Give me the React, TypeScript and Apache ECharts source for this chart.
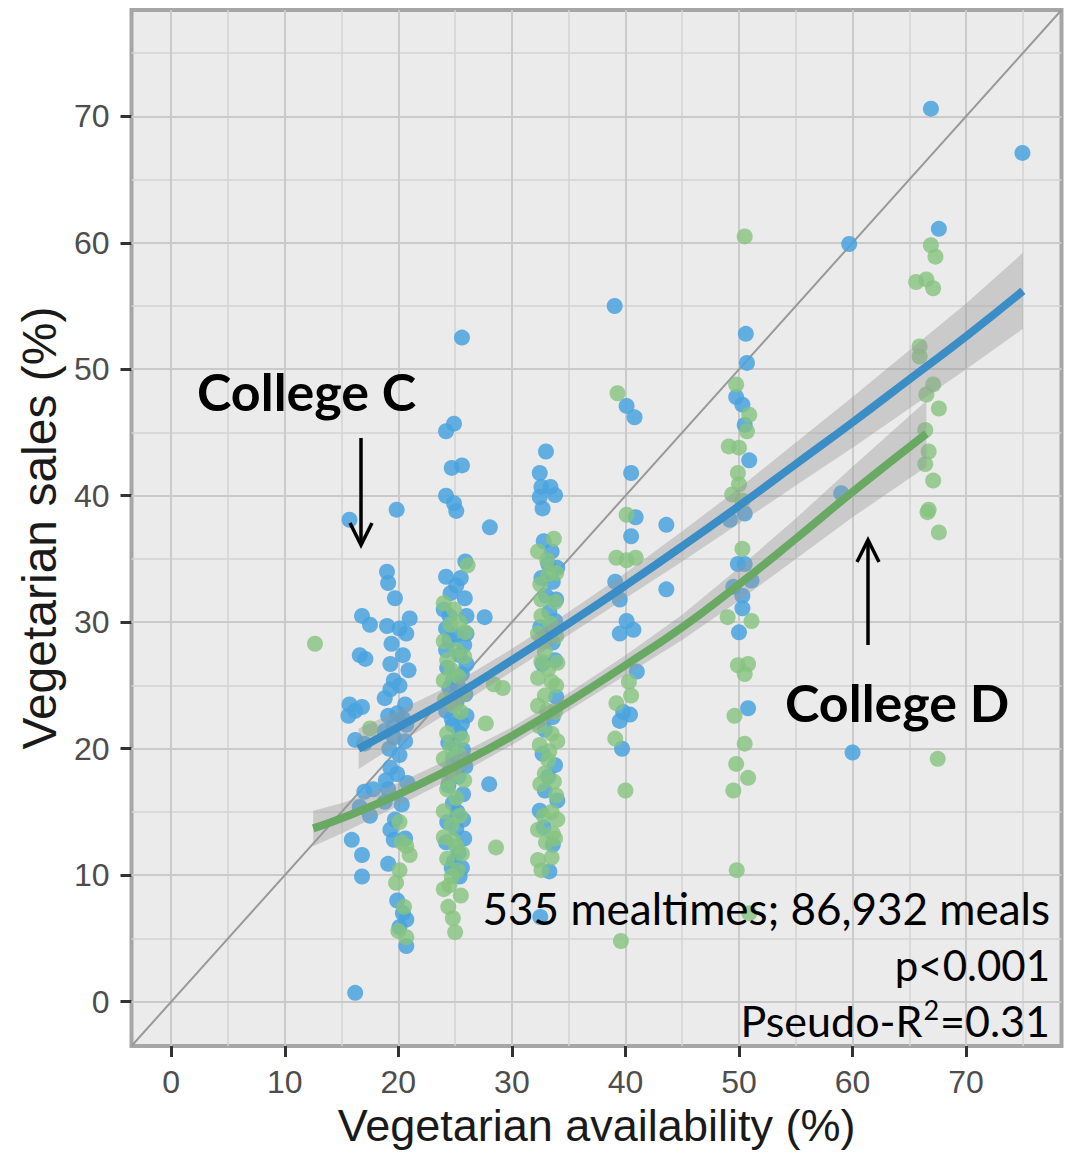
import React, { useEffect, useRef } from "react";
import * as echarts from "echarts";

// Axis range shared by both axes (the identity line runs corner to corner)
const axisMin = -3.5;
const axisMax = 78.4;
const tickValues = [0, 10, 20, 30, 40, 50, 60, 70];
const majorGrid = [0, 10, 20, 30, 40, 50, 60, 70];
const minorGrid = [5, 15, 25, 35, 45, 55, 65, 75];

// College C mealtimes: [vegetarian availability %, vegetarian sales %]
const collegeC: number[][] = [
  [25.6, 52.5], [24.2, 45.1], [24.9, 45.7], [24.7, 42.2], [25.6, 42.4], [24.2, 40.0], [24.9, 39.4], [25.1, 38.8],
  [15.7, 38.1], [19.85, 38.9], [19.0, 34.0], [19.1, 33.1], [19.7, 31.9], [16.8, 30.5], [17.5, 29.8], [21.0, 30.3],
  [20.1, 29.5], [20.7, 29.1], [19.4, 28.3], [16.6, 27.4], [17.1, 27.1], [19.3, 26.7], [19.6, 25.4], [20.1, 25.0],
  [19.3, 24.7], [15.7, 23.5], [16.2, 23.0], [16.8, 23.3], [15.6, 22.6], [19.1, 22.6], [19.9, 22.8], [20.4, 22.4],
  [20.7, 21.9], [19.6, 21.8], [18.8, 21.4], [16.2, 20.7], [17.0, 20.4], [19.6, 20.9], [20.1, 19.5], [19.3, 18.5],
  [19.9, 18.0], [17.0, 16.6], [17.8, 16.8], [19.1, 16.8], [16.6, 15.4], [17.5, 14.7], [19.7, 14.4], [15.9, 12.8],
  [16.8, 11.6], [19.6, 12.8], [16.8, 9.9], [19.9, 8.0], [20.4, 7.0], [20.1, 5.9], [20.7, 4.4], [16.2, 0.7], [20.7, 6.5],
  [20.4, 27.4], [19.0, 29.7], [20.9, 26.2], [18.8, 24.0], [20.6, 23.5], [19.2, 20.0], [20.6, 20.6], [18.9, 17.5],
  [20.8, 17.3], [18.8, 15.8], [20.3, 15.6], [19.3, 13.6], [20.6, 12.9], [19.1, 10.9],
  [25.9, 34.8], [24.2, 33.6], [25.1, 32.9], [25.85, 31.9], [24.0, 31.0], [24.5, 30.5], [26.0, 30.5], [24.2, 29.5],
  [25.1, 29.0], [26.0, 29.1], [24.2, 27.8], [25.4, 27.4], [26.0, 26.7], [24.3, 26.4], [24.8, 25.4], [25.9, 24.3],
  [25.1, 23.6], [24.2, 23.0], [26.0, 22.6], [24.8, 21.9], [25.4, 21.2], [24.4, 20.5], [25.7, 19.9], [24.8, 19.2],
  [25.3, 17.8], [24.4, 17.1], [25.7, 16.4], [24.8, 15.7], [25.7, 14.4], [25.1, 13.7], [24.2, 12.6], [25.3, 11.8],
  [24.7, 10.6], [25.4, 9.9],
  [25.5, 33.5], [24.6, 32.3], [25.8, 28.2], [24.5, 28.6], [25.6, 25.9], [24.5, 24.8], [25.3, 24.9], [24.7, 22.4],
  [25.6, 22.0], [24.9, 20.3], [25.9, 18.6], [24.5, 18.2], [25.2, 15.0], [24.3, 14.2], [25.8, 12.9], [24.9, 11.1],
  [25.6, 10.6],
  [28.06, 37.5], [27.6, 30.4], [28.0, 17.2],
  [33.0, 43.5], [32.45, 41.8], [32.6, 40.7], [33.4, 40.7], [33.8, 40.05], [32.45, 39.9], [32.7, 39.0], [33.5, 35.6],
  [33.2, 34.6], [33.6, 33.2], [33.0, 32.1], [33.3, 30.8], [33.8, 30.1], [33.6, 28.4], [33.8, 27.0], [32.9, 21.5],
  [33.8, 18.7], [32.9, 16.7], [32.45, 15.1], [33.3, 10.3], [32.5, 6.7], [33.6, 12.4], [32.8, 13.8],
  [32.8, 36.4], [34.0, 34.3], [32.6, 33.5], [33.9, 31.8], [32.5, 29.6], [33.1, 29.0], [32.7, 26.7], [33.9, 24.1],
  [32.7, 19.6], [33.6, 22.5], [33.2, 17.8], [34.0, 15.9],
  [39.05, 55.0], [40.1, 47.1], [40.8, 46.2], [40.5, 41.8], [40.9, 38.3], [40.5, 36.8], [39.1, 33.2], [39.5, 31.8],
  [40.1, 30.1], [40.7, 29.4], [39.5, 29.1], [41.0, 26.1], [39.8, 22.9], [40.4, 22.7], [39.5, 22.2], [39.7, 20.0],
  [43.6, 37.7], [43.6, 32.6],
  [50.6, 52.8], [50.7, 50.5], [49.75, 47.8], [50.3, 47.2], [50.5, 45.6], [50.9, 42.8], [49.2, 38.1], [50.5, 38.6],
  [49.9, 34.6], [50.5, 34.6], [49.5, 32.8], [50.3, 32.1], [51.1, 33.3], [50.3, 31.1], [50.0, 29.2], [50.8, 23.2],
  [59.7, 59.9], [59.0, 40.2], [60.0, 19.7],
  [66.9, 70.6], [67.6, 61.1], [74.96, 67.1],
];

// College D mealtimes
const collegeD: number[][] = [
  [12.66, 28.3],
  [20.3, 12.6], [20.7, 12.3], [21.0, 11.6], [20.1, 10.4], [19.8, 9.4], [20.5, 7.5], [20.0, 5.6], [20.7, 5.1],
  [17.5, 21.6], [20.1, 14.2],
  [26.1, 34.5], [24.0, 31.5], [24.9, 31.0], [24.0, 28.5], [25.1, 27.8], [25.8, 27.3], [24.3, 27.0], [24.0, 25.4],
  [25.3, 25.7], [24.3, 21.2], [25.6, 20.8], [24.0, 19.2], [24.9, 18.3], [24.3, 16.8], [25.1, 16.1], [24.0, 15.05],
  [24.7, 14.0], [24.0, 13.0], [25.1, 12.3], [24.3, 11.3], [24.7, 9.9], [24.0, 8.9], [24.4, 7.5], [25.0, 5.5],
  [25.4, 30.0], [24.6, 29.8], [25.9, 29.2], [24.7, 26.2], [25.7, 24.3], [24.9, 23.4], [24.1, 23.9], [25.5, 22.9],
  [24.6, 20.1], [25.3, 19.6], [24.5, 17.6], [25.8, 17.5], [25.4, 14.7], [24.8, 12.8], [25.6, 11.7], [25.2, 10.4],
  [24.5, 9.2], [25.5, 8.4], [24.8, 6.6],
  [28.4, 25.1], [27.7, 22.0], [28.6, 12.2], [29.2, 24.8],
  [33.7, 36.6], [32.3, 35.6], [32.6, 31.8], [33.8, 31.6], [32.3, 29.1], [32.9, 27.7], [33.2, 26.3], [32.3, 25.6],
  [33.5, 25.3], [32.9, 24.2], [32.3, 23.4], [33.8, 22.9], [33.5, 21.2], [32.45, 20.3], [33.3, 19.8], [32.9, 18.05],
  [33.7, 17.4], [33.9, 16.3], [33.5, 15.0], [32.3, 13.6], [33.8, 12.9], [33.0, 12.6], [33.5, 11.4], [32.3, 11.2],
  [33.2, 33.8], [32.6, 30.5], [33.9, 28.9],
  [33.1, 34.9], [32.5, 33.0], [33.9, 33.9], [33.4, 29.9], [32.7, 28.5], [34.0, 26.8], [32.6, 26.9], [33.9, 25.0],
  [33.1, 23.0], [32.4, 21.8], [34.0, 20.6], [33.2, 19.1], [32.5, 17.2], [34.0, 14.4], [32.8, 14.7], [33.6, 13.3],
  [32.6, 10.4],
  [39.3, 48.1], [40.1, 38.5], [39.2, 35.1], [40.1, 34.9], [40.9, 35.1], [40.3, 25.3], [40.5, 24.2], [39.2, 23.6],
  [39.1, 20.8], [40.0, 16.7], [39.6, 4.8],
  [50.5, 60.5], [49.75, 48.8], [50.9, 46.4], [50.7, 45.1], [49.1, 43.9], [50.0, 43.8], [49.9, 41.8], [50.0, 40.9],
  [49.4, 40.1], [50.3, 39.6], [50.3, 35.8], [49.0, 30.4], [51.1, 30.1], [49.9, 26.6], [50.8, 26.7], [50.5, 25.9],
  [49.6, 22.6], [50.5, 20.4], [49.75, 18.8], [50.8, 17.7], [49.5, 16.7], [49.8, 10.4], [50.9, 7.0],
  [66.9, 59.8], [67.3, 58.9], [65.6, 56.9], [66.5, 57.1], [67.1, 56.4], [65.9, 51.8], [65.9, 51.0], [67.1, 48.8],
  [66.5, 48.0], [67.6, 46.9], [66.4, 45.2], [66.7, 43.5], [66.4, 42.5], [67.1, 41.2], [66.7, 38.9], [67.6, 37.1],
  [66.6, 38.7], [67.5, 19.2],
];

// Fitted curves with confidence bands
const fitCX = [16.5, 20, 25, 30, 35, 40, 45, 50, 55, 60, 65, 70, 75];
const fitC = [20.0, 21.7, 24.2, 27.0, 29.9, 32.9, 36.0, 39.2, 42.5, 45.8, 49.2, 52.6, 56.2];
const fitCLower = [18.4, 20.4, 23.2, 26.1, 29.0, 31.9, 34.8, 37.8, 40.8, 43.8, 46.9, 50.0, 53.2];
const fitCUpper = [21.6, 23.0, 25.2, 27.9, 30.8, 33.9, 37.2, 40.6, 44.2, 47.8, 51.5, 55.2, 59.2];

const fitDX = [12.5, 15, 20, 25, 30, 35, 40, 45, 50, 55, 60, 66.5];
const fitD = [13.7, 14.5, 16.4, 18.6, 21.0, 23.7, 26.6, 29.6, 33.0, 36.6, 40.3, 44.9];
const fitDLower = [12.3, 13.3, 15.5, 17.8, 20.3, 23.0, 25.8, 28.6, 31.7, 35.0, 38.3, 42.3];
const fitDUpper = [15.1, 15.7, 17.3, 19.4, 21.7, 24.4, 27.4, 30.6, 34.3, 38.2, 42.3, 47.5];

const SANS = "Liberation Sans, Arial, sans-serif";
const NOTE = "Lato, sans-serif";

function bandSeries(xs: number[], lo: number[], hi: number[], z: number) {
  return {
    type: "custom",
    data: xs.map((x, i) => [x, lo[i], hi[i]]),
    encode: { x: 0, y: [1, 2] },
    clip: true,
    silent: true,
    z,
    renderItem: (params: any, api: any) => {
      if (params.dataIndex !== 0) return null;
      const top = xs.map((x, i) => api.coord([x, hi[i]]));
      const bottom = xs.map((x, i) => api.coord([x, lo[i]])).reverse();
      return {
        type: "polygon",
        shape: { points: top.concat(bottom) },
        style: { fill: "rgba(153,153,153,0.4)", stroke: "none" },
      };
    },
  };
}

function valueAxis(name: string, nameGap: number, nameSize: number, labelMargin: number) {
  return {
    type: "value",
    min: axisMin,
    max: axisMax,
    name,
    nameLocation: "middle",
    nameGap,
    nameTextStyle: { fontSize: nameSize, color: "#1a1a1a", fontFamily: SANS },
    axisLine: { show: false, onZero: false },
    splitLine: { show: false },
    axisTick: {
      show: true,
      customValues: tickValues,
      length: 11,
      lineStyle: { color: "#333", width: 3 },
    },
    axisLabel: {
      customValues: tickValues,
      color: "#4d4d4d",
      fontSize: 32,
      fontFamily: SANS,
      margin: labelMargin,
    },
  };
}

function noteText(text: string, x: number, y: number, size: number, bold: boolean, align: string, rich?: any) {
  return {
    type: "text",
    x,
    y,
    z: 10,
    style: {
      text,
      fontSize: size,
      fontWeight: bold ? "bold" : "normal",
      fontFamily: NOTE,
      fill: "#000",
      textAlign: align,
      textVerticalAlign: "middle",
      rich,
    },
  };
}

export default function App() {
  const ref = useRef<HTMLDivElement>(null);

  useEffect(() => {
    if (!ref.current) return;
    const chart = echarts.init(ref.current, null, { renderer: "svg" });

    const minorStyle = { color: "#d3d3d3", width: 1.5, type: "solid" };
    const majorStyle = { color: "#cacaca", width: 2, type: "solid" };
    const gridLines = [
      ...minorGrid.map((v) => ({ xAxis: v, lineStyle: minorStyle })),
      ...minorGrid.map((v) => ({ yAxis: v, lineStyle: minorStyle })),
      ...majorGrid.map((v) => ({ xAxis: v, lineStyle: majorStyle })),
      ...majorGrid.map((v) => ({ yAxis: v, lineStyle: majorStyle })),
    ];

    const supRich = {
      base: { fontSize: 43, fontFamily: NOTE, fill: "#000", lineHeight: 48 },
      sup: { fontSize: 27, fontFamily: NOTE, fill: "#000", lineHeight: 48, verticalAlign: "top", padding: [0, 1, 0, 1] },
    };

    const option: any = {
      animation: false,
      backgroundColor: "#ffffff",
      grid: {
        show: true,
        z: 0,
        left: 131.5,
        right: 8.5,
        top: 10,
        bottom: 109,
        backgroundColor: "#ebebeb",
        borderColor: "#a6a6a6",
        borderWidth: 4,
      },
      xAxis: valueAxis("Vegetarian availability (%)", 52, 45, 20),
      yAxis: valueAxis("Vegetarian sales (%)", 66, 48, 22),
      series: [
        {
          name: "identity",
          type: "line",
          z: 2,
          silent: true,
          symbol: "none",
          data: [
            [axisMin, axisMin],
            [axisMax, axisMax],
          ],
          lineStyle: { color: "#999999", width: 2 },
          markLine: {
            z: 1,
            silent: true,
            symbol: "none",
            label: { show: false },
            emphasis: { disabled: true },
            lineStyle: { type: "solid" },
            data: gridLines,
          },
        },
        {
          name: "College C",
          type: "scatter",
          z: 3,
          silent: true,
          symbolSize: 16,
          data: collegeC,
          itemStyle: { color: "#4aa3de", opacity: 0.85 },
        },
        {
          name: "College D",
          type: "scatter",
          z: 3,
          silent: true,
          symbolSize: 16,
          data: collegeD,
          itemStyle: { color: "#86c37f", opacity: 0.8 },
        },
        bandSeries(fitDX, fitDLower, fitDUpper, 4),
        bandSeries(fitCX, fitCLower, fitCUpper, 4),
        {
          name: "College D fit",
          type: "line",
          z: 5,
          silent: true,
          symbol: "none",
          smooth: true,
          data: fitDX.map((x, i) => [x, fitD[i]]),
          lineStyle: { color: "#6aa964", width: 8 },
        },
        {
          name: "College C fit",
          type: "line",
          z: 5,
          silent: true,
          symbol: "none",
          smooth: true,
          data: fitCX.map((x, i) => [x, fitC[i]]),
          lineStyle: { color: "#3b8dc5", width: 8 },
        },
      ],
      graphic: [
        noteText("College C", 197, 391, 52, true, "left"),
        {
          type: "line",
          z: 10,
          shape: { x1: 361, y1: 438, x2: 361, y2: 543 },
          style: { stroke: "#000", lineWidth: 3.5 },
        },
        {
          type: "polyline",
          z: 10,
          shape: { points: [[350, 523], [361, 545], [372, 523]] },
          style: { stroke: "#000", lineWidth: 3.5, fill: null },
        },
        noteText("College D", 785, 702, 52, true, "left"),
        {
          type: "line",
          z: 10,
          shape: { x1: 868, y1: 645, x2: 868, y2: 542 },
          style: { stroke: "#000", lineWidth: 3.5 },
        },
        {
          type: "polyline",
          z: 10,
          shape: { points: [[857, 562], [868, 540], [879, 562]] },
          style: { stroke: "#000", lineWidth: 3.5, fill: null },
        },
        noteText("535 mealtimes; 86,932 meals", 1050, 908, 44, false, "right"),
        noteText("p<0.001", 1050, 965, 42, false, "right"),
        noteText("{base|Pseudo-R}{sup|2}{base|=0.31}", 1050, 1020, 43, false, "right", supRich),
      ],
    };

    chart.setOption(option);
    return () => chart.dispose();
  }, []);

  return (
    <div
      ref={ref}
      style={{ position: "absolute", left: 0, top: 0, width: 1070, height: 1155 }}
    />
  );
}
